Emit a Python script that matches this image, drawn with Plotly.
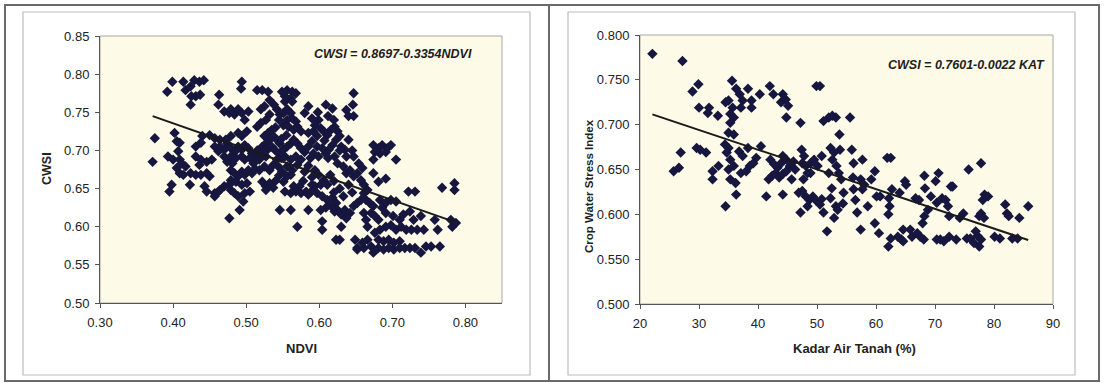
import plotly.graph_objects as go

# ---------------- data ----------------
ndvi_points = [
    (0.375,0.716),(0.372,0.685),
    (0.392,0.777),(0.399,0.790),(0.414,0.790),(0.417,0.779),(0.424,0.784),(0.429,0.792),(0.436,0.790),(0.442,0.792),(0.431,0.771),(0.437,0.773),(0.424,0.760),(0.425,0.771),
    (0.463,0.773),(0.462,0.760),(0.494,0.790),(0.493,0.781),
    (0.402,0.723),(0.405,0.712),(0.409,0.710),(0.407,0.699),(0.393,0.692),(0.400,0.688),(0.409,0.688),(0.412,0.683),(0.405,0.677),(0.417,0.679),
    (0.409,0.670),(0.414,0.668),(0.424,0.670),(0.431,0.668),(0.438,0.668),(0.446,0.670),(0.450,0.666),
    (0.398,0.655),(0.395,0.646),(0.423,0.655),
    (0.431,0.692),(0.438,0.688),(0.446,0.685),(0.453,0.688),(0.436,0.681),
    (0.431,0.705),(0.438,0.710),(0.440,0.719),(0.450,0.720),(0.457,0.716),(0.464,0.714),
    (0.443,0.653),(0.446,0.646),(0.457,0.644),(0.462,0.646),(0.457,0.640),(0.464,0.648),(0.470,0.653),(0.477,0.655),(0.479,0.648),(0.484,0.644),(0.489,0.640),(0.496,0.633),(0.491,0.622),(0.477,0.611),
    (0.470,0.751),(0.477,0.749),(0.484,0.747),(0.479,0.754),(0.489,0.754),(0.494,0.749),(0.498,0.740),(0.503,0.751),
    (0.464,0.705),(0.470,0.701),(0.474,0.709),(0.479,0.703),(0.484,0.698),(0.489,0.705),(0.494,0.701),(0.498,0.707),(0.503,0.703),(0.508,0.696),(0.479,0.692),(0.486,0.690),(0.494,0.692),(0.498,0.688),(0.470,0.692),(0.474,0.685),(0.481,0.683),(0.489,0.723),(0.494,0.719),(0.501,0.725),(0.479,0.719),(0.472,0.714),(0.462,0.699),(0.457,0.705),
    (0.479,0.674),(0.484,0.670),(0.489,0.666),(0.494,0.672),(0.498,0.668),(0.503,0.674),(0.508,0.670),(0.479,0.661),(0.486,0.659),(0.494,0.655),(0.501,0.657),(0.498,0.644),(0.505,0.646),
    (0.510,0.683),(0.513,0.690),(0.518,0.688),(0.520,0.696),(0.527,0.692),(0.522,0.705),(0.527,0.709),(0.532,0.714),(0.537,0.719),(0.542,0.714),(0.546,0.709),(0.525,0.719),(0.530,0.723),(0.535,0.727),(0.515,0.731),(0.520,0.736),(0.527,0.740),(0.532,0.747),(0.520,0.754),(0.525,0.758),(0.515,0.779),(0.522,0.779),(0.530,0.777),(0.532,0.766),(0.542,0.754),(0.546,0.747),(0.551,0.749),(0.556,0.754),(0.561,0.749),(0.549,0.777),(0.556,0.779),(0.563,0.777),(0.568,0.775),(0.553,0.771),(0.561,0.768),(0.553,0.764),(0.563,0.764),(0.556,0.740),(0.563,0.742),(0.568,0.738),(0.551,0.733),(0.558,0.731),(0.565,0.727),(0.570,0.731),(0.575,0.725),(0.580,0.749),(0.585,0.758),
    (0.518,0.674),(0.525,0.679),(0.532,0.674),(0.537,0.681),(0.542,0.688),(0.546,0.696),(0.551,0.701),(0.556,0.705),(0.561,0.709),(0.565,0.714),(0.570,0.709),(0.575,0.703),(0.580,0.698),(0.585,0.705),(0.590,0.712),(0.585,0.723),(0.592,0.725),(0.597,0.719),(0.594,0.733),(0.599,0.740),(0.592,0.696),(0.599,0.692),(0.553,0.692),(0.561,0.688),(0.568,0.692),(0.575,0.688),(0.556,0.679),(0.563,0.674),(0.570,0.681),(0.544,0.679),(0.549,0.672),
    (0.522,0.659),(0.527,0.653),(0.532,0.657),(0.537,0.651),(0.527,0.648),(0.551,0.659),(0.556,0.666),(0.561,0.668),(0.553,0.646),(0.561,0.644),(0.568,0.646),(0.575,0.644),(0.582,0.646),(0.585,0.642),(0.565,0.653),(0.573,0.653),(0.546,0.622),(0.561,0.622),(0.585,0.622),(0.570,0.600),
    (0.609,0.760),(0.618,0.755),(0.637,0.753),(0.640,0.745),(0.647,0.745),(0.647,0.775),(0.646,0.760),
    (0.602,0.729),(0.606,0.725),(0.611,0.720),(0.616,0.727),(0.621,0.731),(0.625,0.725),(0.628,0.719),(0.623,0.714),(0.618,0.707),(0.613,0.701),(0.609,0.696),(0.604,0.703),(0.630,0.705),(0.635,0.701),(0.637,0.692),(0.621,0.692),(0.625,0.683),(0.633,0.679),(0.637,0.670),(0.642,0.674),(0.647,0.666),(0.652,0.670),(0.657,0.661),(0.661,0.655),(0.647,0.692),(0.654,0.683),(0.659,0.677),
    (0.594,0.674),(0.599,0.668),(0.606,0.661),(0.611,0.655),(0.602,0.655),(0.594,0.653),(0.589,0.646),(0.597,0.644),(0.604,0.640),(0.611,0.635),(0.618,0.638),(0.623,0.631),(0.616,0.627),(0.609,0.625),(0.621,0.620),(0.625,0.622),(0.630,0.616),(0.635,0.622),(0.637,0.611),(0.642,0.618),(0.647,0.627),(0.652,0.631),(0.657,0.635),(0.602,0.622),(0.604,0.607),(0.604,0.596),(0.630,0.600),(0.623,0.583),(0.628,0.583),(0.649,0.583),(0.652,0.572),
    (0.661,0.644),(0.666,0.648),(0.664,0.635),(0.669,0.631),(0.674,0.627),(0.671,0.618),(0.676,0.614),(0.681,0.609),(0.664,0.609),(0.666,0.600),(0.661,0.618),
    (0.674,0.707),(0.681,0.703),(0.686,0.707),(0.693,0.703),(0.698,0.707),(0.676,0.698),(0.683,0.696),(0.691,0.698),(0.674,0.688),(0.705,0.688),(0.674,0.670),(0.681,0.659),(0.691,0.663),
    (0.683,0.635),(0.691,0.631),(0.698,0.635),(0.705,0.633),(0.686,0.625),(0.691,0.618),(0.701,0.614),(0.710,0.609),(0.715,0.616),(0.724,0.620),(0.722,0.646),(0.731,0.646),
    (0.652,0.570),(0.661,0.572),(0.671,0.574),(0.674,0.566),(0.681,0.572),(0.688,0.570),(0.695,0.572),(0.702,0.570),(0.710,0.572),(0.717,0.572),(0.724,0.572),(0.731,0.572),(0.739,0.566),(0.676,0.592),(0.683,0.596),(0.691,0.600),(0.698,0.602),(0.705,0.596),(0.712,0.600),(0.719,0.596),(0.681,0.583),(0.688,0.581),(0.695,0.583),(0.702,0.579),(0.710,0.581),(0.726,0.596),(0.734,0.596),(0.743,0.596),(0.729,0.609),(0.739,0.614),(0.746,0.574),(0.753,0.574),(0.765,0.574),(0.762,0.596),(0.758,0.609),(0.768,0.651),(0.785,0.657),(0.785,0.648),(0.782,0.600),(0.787,0.605),(0.780,0.609),(0.666,0.583),(0.659,0.579),
    (0.540,0.700),(0.548,0.690),(0.535,0.705),(0.528,0.700),(0.515,0.700),(0.505,0.690),(0.512,0.676),(0.545,0.667),(0.540,0.660),(0.590,0.665),(0.585,0.680),(0.580,0.672),(0.578,0.660),(0.590,0.655),(0.615,0.668),(0.620,0.660),(0.628,0.650),(0.640,0.655),(0.645,0.645),(0.633,0.640),(0.620,0.645),(0.548,0.715),(0.555,0.720),(0.540,0.730),(0.545,0.740),(0.538,0.760),(0.588,0.690),(0.597,0.705),(0.612,0.690),(0.628,0.700),(0.620,0.740),(0.612,0.745),(0.590,0.742),(0.598,0.750),(0.607,0.713),(0.640,0.714),(0.645,0.700),
]

kat_points = [
    (22.1,0.779),(27.2,0.771),(25.7,0.648),(26.6,0.652),(26.9,0.669),
    (28.9,0.737),(29.9,0.745),(30.0,0.719),(31.7,0.719),(31.5,0.713),(33.2,0.710),(29.6,0.674),(30.2,0.672),(31.2,0.669),(32.3,0.648),(32.3,0.639),(33.3,0.654),(34.5,0.609),
    (34.5,0.725),(35.6,0.749),(35.0,0.727),(35.7,0.719),(35.3,0.712),(35.9,0.708),(35.3,0.702),(35.0,0.691),(35.9,0.689),(34.4,0.678),(35.0,0.674),(34.7,0.669),(35.3,0.661),(35.9,0.654),(35.0,0.650),(35.3,0.639),(36.2,0.635),(36.3,0.622),(36.8,0.670),(36.3,0.740),(36.9,0.734),(37.4,0.727),(37.1,0.719),(38.3,0.740),(38.9,0.727),(38.9,0.719),(37.4,0.665),(37.1,0.646),(38.0,0.648),(38.6,0.654),(39.2,0.657),(39.7,0.663),(38.3,0.674),(40.3,0.734),(40.5,0.676),(41.4,0.620),
    (42.0,0.743),(42.6,0.734),(44.2,0.734),(44.7,0.728),(43.9,0.725),(45.1,0.721),(44.8,0.708),(42.1,0.661),(42.7,0.656),(43.3,0.652),(43.9,0.657),(44.2,0.665),(44.8,0.661),(42.4,0.643),(43.0,0.646),(43.6,0.641),(44.2,0.645),(44.8,0.648),(45.4,0.654),(46.0,0.659),(46.3,0.650),(45.7,0.639),(44.2,0.622),(41.8,0.639),
    (47.2,0.702),(47.4,0.672),(47.8,0.665),(47.5,0.657),(48.1,0.654),(48.4,0.646),(47.7,0.639),(48.9,0.657),(49.5,0.661),(50.1,0.654),(48.9,0.646),(46.9,0.624),(47.5,0.626),(48.1,0.620),(48.7,0.616),(49.3,0.620),(49.9,0.615),(48.4,0.609),(47.2,0.602),(49.9,0.743),(50.5,0.743),(50.8,0.665),(50.8,0.617),(50.5,0.611),
    (51.1,0.602),(51.7,0.581),(52.0,0.646),(52.6,0.661),(52.9,0.669),(52.3,0.674),(52.5,0.629),(52.3,0.618),(53.2,0.609),(52.9,0.596),(51.1,0.704),(52.0,0.708),(52.6,0.710),(53.2,0.708),(53.8,0.689),(53.9,0.672),(53.3,0.654),(53.7,0.646),(54.1,0.639),(54.5,0.624),(54.4,0.612),(53.5,0.605),(55.6,0.708),(55.9,0.672),(56.2,0.657),(56.1,0.641),(56.2,0.628),(56.5,0.616),(56.8,0.602),
    (57.4,0.583),(57.7,0.661),(57.4,0.639),(58.0,0.633),(57.7,0.628),(58.6,0.609),(59.2,0.639),(59.8,0.648),(60.1,0.620),(60.7,0.620),(59.8,0.590),(60.5,0.579),(61.9,0.663),(62.5,0.663),(62.2,0.618),(62.3,0.609),(62.1,0.600),(62.1,0.564),(62.5,0.573),(62.7,0.628),
    (64.0,0.624),(63.7,0.575),(64.3,0.572),(64.6,0.583),(64.9,0.637),(65.1,0.633),(64.6,0.570),(65.8,0.583),(66.1,0.575),(66.7,0.618),(67.3,0.616),(67.0,0.579),(67.5,0.575),(68.1,0.572),(68.2,0.643),(68.3,0.629),(67.9,0.590),(68.2,0.598),(68.8,0.605),(69.3,0.620),(70.1,0.637),(70.6,0.646),(70.3,0.613),(70.3,0.572),(70.9,0.572),(71.2,0.618),(71.5,0.570),(71.8,0.616),(72.2,0.609),
    (72.4,0.598),(72.7,0.631),(73.0,0.631),(72.4,0.575),(73.6,0.572),(74.2,0.596),(74.8,0.601),(75.4,0.573),(75.7,0.650),(76.0,0.573),(76.6,0.568),(77.2,0.576),(76.9,0.581),(77.5,0.598),(77.8,0.657),(78.1,0.616),(77.8,0.601),(78.3,0.596),(78.4,0.622),(79.0,0.620),(77.8,0.572),(77.5,0.564),
    (80.1,0.575),(81.0,0.573),(81.9,0.611),(82.2,0.601),(82.5,0.598),(83.1,0.573),(84.0,0.573),(84.3,0.596),(85.8,0.609),
]

ndvi_intercept, ndvi_slope = 0.8697, -0.3354
kat_intercept, kat_slope = 0.7601, -0.0022

left_xticks = [0.30, 0.40, 0.50, 0.60, 0.70, 0.80]
left_yticks = [0.50, 0.55, 0.60, 0.65, 0.70, 0.75, 0.80, 0.85]
right_xticks = [20, 30, 40, 50, 60, 70, 80, 90]
right_yticks = [0.500, 0.550, 0.600, 0.650, 0.700, 0.750, 0.800]

eq_left = "CWSI = 0.8697-0.3354NDVI"
eq_right = "CWSI = 0.7601-0.0022 KAT"

# ---------------- figure ----------------
W, H = 1107, 383
def px(x): return x / W
def py(y): return 1 - y / H

FONT = "Liberation Sans, Arial, sans-serif"
TXT = "#222222"
MARK = "#16163e"
PLOTBG = "#fdfae8"

nx = [p[0] for p in ndvi_points]; ny = [p[1] for p in ndvi_points]
kx = [p[0] for p in kat_points]; ky = [p[1] for p in kat_points]

fig = go.Figure()
fig.add_trace(go.Scatter(x=nx, y=ny, mode="markers", xaxis="x", yaxis="y",
                         marker=dict(symbol="diamond", size=8, color=MARK), showlegend=False))
lx = [min(nx), max(nx)]
fig.add_trace(go.Scatter(x=lx, y=[ndvi_intercept + ndvi_slope * v for v in lx], mode="lines",
                         xaxis="x", yaxis="y", line=dict(color="#1a1a1a", width=2), showlegend=False))
fig.add_trace(go.Scatter(x=kx, y=ky, mode="markers", xaxis="x2", yaxis="y2",
                         marker=dict(symbol="diamond", size=8, color=MARK), showlegend=False))
rx = [min(kx), max(kx)]
fig.add_trace(go.Scatter(x=rx, y=[kat_intercept + kat_slope * v for v in rx], mode="lines",
                         xaxis="x2", yaxis="y2", line=dict(color="#1a1a1a", width=2), showlegend=False))

axis_common = dict(showgrid=False, zeroline=False, showline=True, linecolor="#555555", linewidth=1,
                   ticks="outside", ticklen=4, tickcolor="#555555", automargin=False,
                   tickfont=dict(family=FONT, size=13, color=TXT))

fig.update_layout(
    width=W, height=H, autosize=False,
    margin=dict(l=0, r=0, t=0, b=0, pad=0),
    paper_bgcolor="white", plot_bgcolor=PLOTBG,
    xaxis=dict(axis_common, domain=[px(100), px(502)], range=[0.30, 0.85], tickvals=left_xticks,
               ticktext=[f"{v:.2f}" for v in left_xticks], anchor="y", ticklabelstandoff=3),
    yaxis=dict(axis_common, domain=[py(303), py(36)], range=[0.50, 0.85], tickvals=left_yticks,
               ticktext=[f"{v:.2f}" for v in left_yticks], anchor="x", ticklabelstandoff=3),
    xaxis2=dict(axis_common, domain=[px(640), px(1053)], range=[20, 90], tickvals=right_xticks,
                ticktext=[str(v) for v in right_xticks], anchor="y2", ticklabelstandoff=3),
    yaxis2=dict(axis_common, domain=[py(304), py(35)], range=[0.500, 0.800], tickvals=right_yticks,
                ticktext=[f"{v:.3f}" for v in right_yticks], anchor="x2", ticklabelstandoff=3),
)

shapes = [
    # outer dark frames
    dict(type="rect", xref="paper", yref="paper", x0=px(5), x1=px(549), y0=py(381), y1=py(5),
         line=dict(color="#6a6a6a", width=2)),
    dict(type="rect", xref="paper", yref="paper", x0=px(549), x1=px(1099), y0=py(381), y1=py(5),
         line=dict(color="#6a6a6a", width=2)),
    # inner light chart-area frames
    dict(type="rect", xref="paper", yref="paper", x0=px(23), x1=px(530), y0=py(375), y1=py(12),
         line=dict(color="#bdbdbd", width=1.2)),
    dict(type="rect", xref="paper", yref="paper", x0=px(568), x1=px(1075), y0=py(375), y1=py(12),
         line=dict(color="#bdbdbd", width=1.2)),
    # plot-area borders (top/right lighter)
    dict(type="rect", xref="x domain", yref="y domain", x0=0, x1=1, y0=0, y1=1,
         line=dict(color="#a8a8a8", width=1), layer="below"),
    dict(type="rect", xref="x2 domain", yref="y2 domain", x0=0, x1=1, y0=0, y1=1,
         line=dict(color="#a8a8a8", width=1), layer="below"),
]
fig.update_layout(shapes=shapes)

annotations = [
    dict(text=f"<b><i>{eq_left}</i></b>", xref="paper", yref="paper", x=px(474), y=py(54),
         xanchor="right", yanchor="middle", showarrow=False, font=dict(family=FONT, size=12.5, color="#1e1e1e")),
    dict(text=f"<b><i>{eq_right}</i></b>", xref="paper", yref="paper", x=px(1047), y=py(65),
         xanchor="right", yanchor="middle", showarrow=False, font=dict(family=FONT, size=12.5, color="#1e1e1e")),
    dict(text="<b>NDVI</b>", xref="paper", yref="paper", x=px(301), y=py(348),
         xanchor="center", yanchor="middle", showarrow=False, font=dict(family=FONT, size=13, color=TXT)),
    dict(text="<b>CWSI</b>", xref="paper", yref="paper", x=px(47), y=py(169), textangle=-90,
         xanchor="center", yanchor="middle", showarrow=False, font=dict(family=FONT, size=12.5, color=TXT)),
    dict(text="<b>Kadar Air Tanah (%)</b>", xref="paper", yref="paper", x=px(854), y=py(348),
         xanchor="center", yanchor="middle", showarrow=False, font=dict(family=FONT, size=13, color=TXT)),
    dict(text="<b>Crop Water Stress Index</b>", xref="paper", yref="paper", x=px(589), y=py(186), textangle=-90,
         xanchor="center", yanchor="middle", showarrow=False, font=dict(family=FONT, size=11.5, color=TXT)),
]
fig.update_layout(annotations=annotations)

fig.write_html("out.html", config={"displayModeBar": False},
               post_script="document.body.style.margin='0px';document.body.style.overflow='hidden';")
